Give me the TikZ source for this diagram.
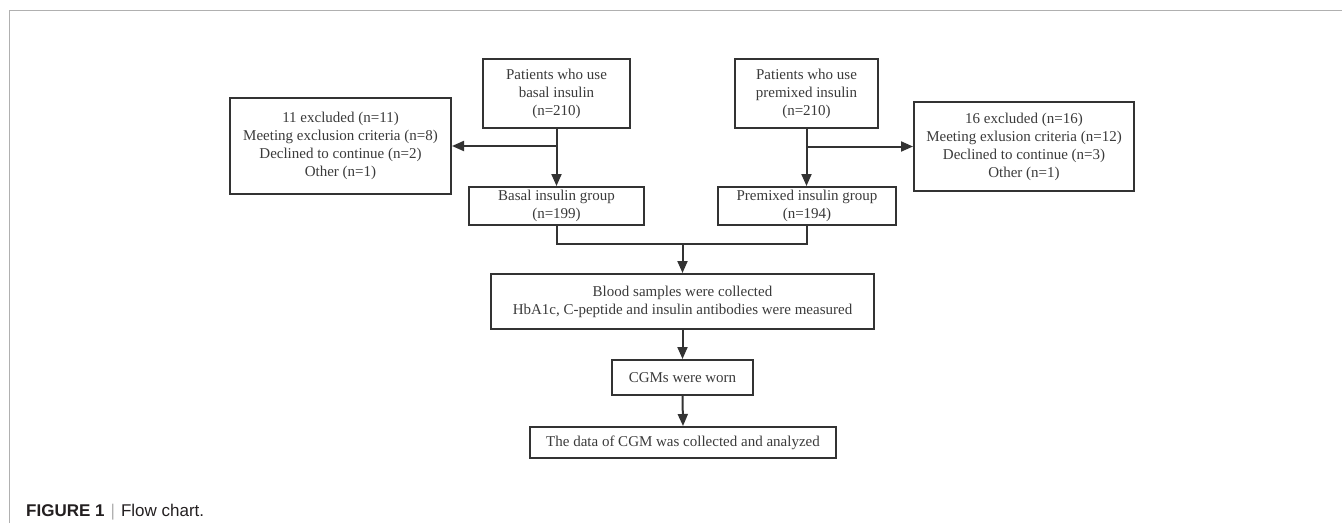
\documentclass[tikz,border=0pt]{standalone}
\usepackage{fontspec}
\setmainfont{Liberation Serif}
\newfontfamily\capfont{Liberation Sans}
\usetikzlibrary{arrows.meta}
\definecolor{boxc}{HTML}{333333}
\definecolor{txtc}{HTML}{3A3A3A}
\definecolor{framec}{HTML}{B0B0B0}
\definecolor{capc}{HTML}{231F20}
\begin{document}
\begin{tikzpicture}[x=1pt,y=-1pt,
  box/.style={draw=boxc, line width=2pt, text=txtc, align=center, inner sep=0pt,
              font=\fontsize{15}{18}\selectfont},
  conn/.style={draw=boxc, line width=2pt},
  arr/.style={conn, -{Triangle[length=12pt,width=10pt]}}]
\useasboundingbox (0,0) rectangle (1342,523);
% frame
\draw[framec, line width=1.5pt] (9.5,523) -- (9.5,10.5) -- (1342,10.5);
% nodes
\node[box, minimum width=147, minimum height=69] (basal) at (556.5,93.5)
  {Patients who use\\basal insulin\\(n=210)};
\node[box, minimum width=221, minimum height=96] (excl1) at (340.5,146)
  {11 excluded (n=11)\\Meeting exclusion criteria (n=8)\\Declined to continue (n=2)\\Other (n=1)};
\node[box, minimum width=175, minimum height=38] (bgroup) at (556.5,206)
  {Basal insulin group\\(n=199)};
\node[box, minimum width=143, minimum height=69] (pmtop) at (806.5,93.5)
  {Patients who use\\premixed insulin\\(n=210)};
\node[box, minimum width=220, minimum height=89] (excl2) at (1024,146.5)
  {16 excluded (n=16)\\Meeting exlusion criteria (n=12)\\Declined to continue (n=3)\\Other (n=1)};
\node[box, minimum width=178, minimum height=38] (pgroup) at (807,206)
  {Premixed insulin group\\(n=194)};
\node[box, minimum width=383, minimum height=55] (blood) at (682.5,301.5)
  {Blood samples were collected\\HbA1c, C-peptide and insulin antibodies were measured};
\node[box, minimum width=141, minimum height=35] (cgm) at (682.5,377.5)
  {CGMs were worn};
\node[box, minimum width=306, minimum height=31] (final) at (683,442.5)
  {The data of CGM was collected and analyzed};
% connectors
\draw[arr] (basal.south) -- (bgroup.north);
\coordinate (b1) at (basal.south |- excl1.east);
\draw[arr] (b1) -- (excl1.east);
\draw[arr] (pmtop.south) -- (pmtop.south |- pgroup.north);
\coordinate (p1) at (pmtop.south |- excl2.west);
\draw[arr] (p1) -- (excl2.west);
\coordinate (m) at (682.5,244);
\draw[conn] (bgroup.south) |- (m) -| (pgroup.south);
\draw[arr] (m) -- (blood.north);
\draw[arr] (blood.south) -- (cgm.north);
\draw[arr] (cgm.south) -- (final.north);
% caption
\node[anchor=base west, inner sep=0pt, text=capc,
      font=\capfont\fontsize{17}{20}\selectfont] (cap) at (26,516)
  {\textbf{FIGURE 1}\hspace{6pt}{\color{framec}|}\hspace{6pt}Flow chart.};
\end{tikzpicture}
\end{document}
